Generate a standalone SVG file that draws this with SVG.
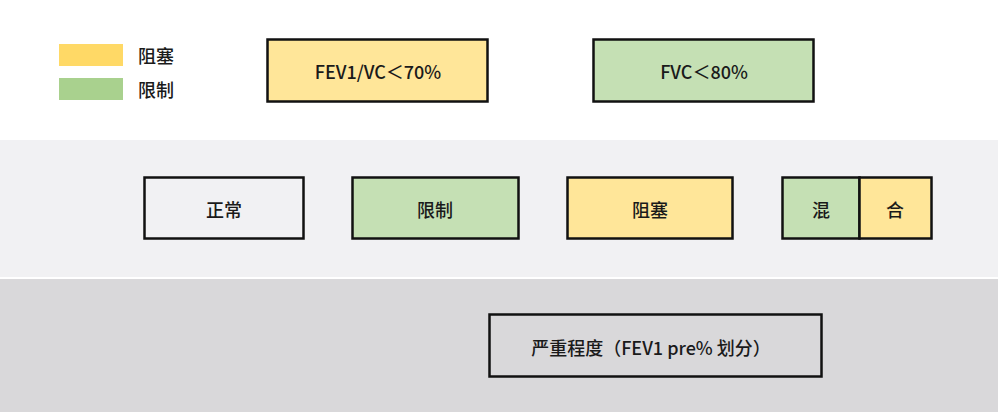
<svg xmlns="http://www.w3.org/2000/svg" width="998" height="412" viewBox="0 0 998 412">
  <style>
    .t { font-family: "Noto Sans CJK SC", "Noto Sans", sans-serif; font-size: 18px; font-weight: 500; fill: #1a1a1a; text-anchor: middle; dominant-baseline: central; }
    .lt { font-family: "Noto Sans CJK SC", "Noto Sans", sans-serif; font-size: 18px; font-weight: 500; fill: #1a1a1a; dominant-baseline: central; }
    .box { stroke: #111; stroke-width: 2.5; }
    .yel { fill: #ffe699; }
    .grn { fill: #c5e0b4; }
  </style>
  <rect x="0" y="0" width="998" height="412" fill="#ffffff"/>
  <rect x="0" y="140" width="998" height="137" fill="#f1f1f3"/>
  <rect x="0" y="279" width="998" height="133" fill="#d9d8da"/>

  <g id="legend">
    <rect x="59" y="44" width="64" height="22" fill="#ffd966"/>
    <text class="lt" x="138" y="55">阻塞</text>
    <rect x="59" y="78" width="64" height="22" fill="#a9d18e"/>
    <text class="lt" x="138" y="89">限制</text>
  </g>

  <g id="connectors"></g>

  <g id="fev1vc">
    <rect class="box yel" x="267.5" y="39.5" width="220" height="62"/>
    <text class="t" x="378" y="71">FEV1/VC＜70%</text>
  </g>
  <g id="fvc">
    <rect class="box grn" x="593.5" y="39.5" width="220" height="62"/>
    <text class="t" x="704" y="71">FVC＜80%</text>
  </g>

  <g id="normal">
    <rect class="box" fill="#f1f1f3" x="144.5" y="177.5" width="159" height="61"/>
    <text class="t" x="224" y="209">正常</text>
  </g>
  <g id="restrictive">
    <rect class="box grn" x="352.5" y="177.5" width="166" height="61"/>
    <text class="t" x="435" y="209">限制</text>
  </g>
  <g id="obstructive">
    <rect class="box yel" x="567.5" y="177.5" width="165" height="61"/>
    <text class="t" x="650" y="209">阻塞</text>
  </g>
  <g id="mixed">
    <rect class="box grn" x="782.5" y="177.5" width="77" height="61"/>
    <rect class="box yel" x="859.5" y="177.5" width="72" height="61"/>
    <text class="t" x="821" y="209">混</text>
    <text class="t" x="895" y="209">合</text>
  </g>

  <g id="severity">
    <rect class="box" fill="#d9d8da" x="489.5" y="314.5" width="332" height="62"/>
    <text class="t" x="651" y="347">严重程度（FEV1 pre% 划分）</text>
  </g>
</svg>
